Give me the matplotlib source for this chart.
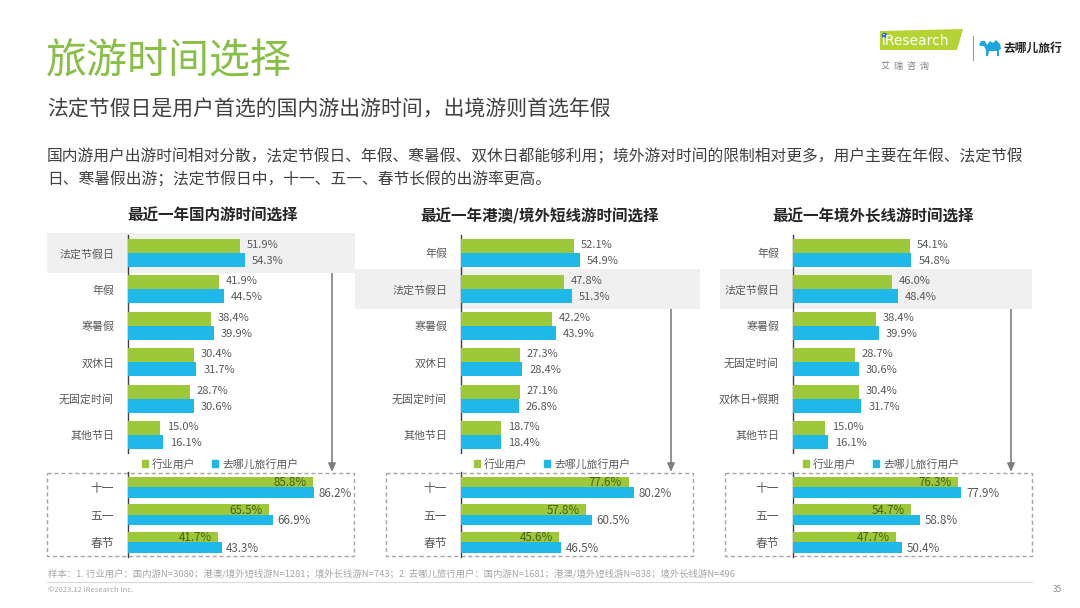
import matplotlib
matplotlib.use("Agg")
import matplotlib.pyplot as plt
from matplotlib.patches import Rectangle, Polygon, Patch

plt.rcParams['font.family'] = ['Noto Sans CJK SC', 'DejaVu Sans']

# ---------------- data ----------------
series_names = ['行业用户', '去哪儿旅行用户']

p1_title = '最近一年国内游时间选择'
p1_cats = ['法定节假日', '年假', '寒暑假', '双休日', '无固定时间', '其他节日']
p1_ind = [51.9, 41.9, 38.4, 30.4, 28.7, 15.0]
p1_qun = [54.3, 44.5, 39.9, 31.7, 30.6, 16.1]

p2_title = '最近一年港澳/境外短线游时间选择'
p2_cats = ['年假', '法定节假日', '寒暑假', '双休日', '无固定时间', '其他节日']
p2_ind = [52.1, 47.8, 42.2, 27.3, 27.1, 18.7]
p2_qun = [54.9, 51.3, 43.9, 28.4, 26.8, 18.4]

p3_title = '最近一年境外长线游时间选择'
p3_cats = ['年假', '法定节假日', '寒暑假', '无固定时间', '双休日+假期', '其他节日']
p3_ind = [54.1, 46.0, 38.4, 28.7, 30.4, 15.0]
p3_qun = [54.8, 48.4, 39.9, 30.6, 31.7, 16.1]

hol_cats = ['十一', '五一', '春节']
p1_hol_ind = [85.8, 65.5, 41.7]
p1_hol_qun = [86.2, 66.9, 43.3]
p2_hol_ind = [77.6, 57.8, 45.6]
p2_hol_qun = [80.2, 60.5, 46.5]
p3_hol_ind = [76.3, 54.7, 47.7]
p3_hol_qun = [77.9, 58.8, 50.4]

title = '旅游时间选择'
subtitle = '法定节假日是用户首选的国内游出游时间，出境游则首选年假'
body1 = '国内游用户出游时间相对分散，法定节假日、年假、寒暑假、双休日都能够利用；境外游对时间的限制相对更多，用户主要在年假、法定节假'
body2 = '日、寒暑假出游；法定节假日中，十一、五一、春节长假的出游率更高。'
footnote = ('样本：1. 行业用户：国内游N=3080；港澳/境外短线游N=1281；境外长线游N=743；'
            '2. 去哪儿旅行用户：国内游N=1681；港澳/境外短线游N=838；境外长线游N=496')

# ---------------- style ----------------
W, H = 1080, 608
GREEN = '#9DC83A'
BLUE = '#1FB9E9'
TITLE_GREEN = '#88BF45'
GRAY_TXT = '#595959'
DARK_TXT = '#404040'
BAND = '#F0F0F0'

fig = plt.figure(figsize=(W / 100, H / 100), dpi=100)
ov = fig.add_axes([0, 0, 1, 1])
ov.set_xlim(0, W)
ov.set_ylim(H, 0)
ov.axis('off')


def add_ax(x0, y0, x1, y1):
    return fig.add_axes([x0 / W, 1 - y1 / H, (x1 - x0) / W, (y1 - y0) / H])


# header texts
ov.text(46, 62, title, fontsize=29.5, color=TITLE_GREEN, va='center', ha='left')
ov.text(47, 110, subtitle, fontsize=15, color=DARK_TXT, va='center', ha='left')
ov.text(47, 157, body1, fontsize=11.35, color=DARK_TXT, va='center', ha='left')
ov.text(47, 180, body2, fontsize=11.35, color=DARK_TXT, va='center', ha='left')

# logo: iResearch
ov.add_patch(Polygon([(880, 31), (963, 29), (957, 50), (880, 50)], closed=True,
                     fc='#B5D334', ec='none'))
ov.text(882, 41, 'iResearch', fontsize=10, color='white', va='center', ha='left',
        family='DejaVu Sans')
ov.plot([884], [35], 'o', ms=3, color='#2A6EBB')
ov.text(881, 66, '艾  瑞  咨  询', fontsize=6.5, color='#7F7F7F', va='center', ha='left')
ov.plot([973, 973], [36, 60], color='#999999', lw=0.8)
camel = [(979, 45), (981, 41), (985, 41), (987, 45), (990, 41), (993, 43), (996, 40),
         (1000, 44), (1001, 49), (999, 50), (999, 56), (997, 56), (997, 51), (989, 51),
         (988, 56), (986, 56), (986, 50), (984, 46), (981, 46)]
ov.add_patch(Polygon(camel, closed=True, fc='#1DA7DF', ec='none'))
ov.text(1004, 48, '去哪儿旅行', fontsize=8.5, fontweight='bold', color='#222222',
        va='center', ha='left')

# footer
ov.text(48, 574, footnote, fontsize=6.75, color='#A6A6A6', va='center', ha='left')
ov.plot([47, 1032], [582, 582], color='#D9D9D9', lw=0.8)
ov.text(48, 590, '©2023.12 iResearch Inc.', fontsize=5.5, color='#A6A6A6', va='center', ha='left')
ov.text(1062, 590, '35', fontsize=6, color='#8C8C8C', va='center', ha='right')

SCALE = 2.16  # px per percent
ROW_TOP = 36.4
ROW_BOT = 27.5

panels = [
    dict(title=p1_title, tx=213, spine=128, cats=p1_cats, ind=p1_ind, qun=p1_qun,
         hind=p1_hol_ind, hqun=p1_hol_qun, hl=0, band=(47, 355), box=(47, 354),
         arrow_x=332, legx=220),
    dict(title=p2_title, tx=540, spine=461, cats=p2_cats, ind=p2_ind, qun=p2_qun,
         hind=p2_hol_ind, hqun=p2_hol_qun, hl=1, band=(355, 700), box=(386, 693),
         arrow_x=671, legx=552),
    dict(title=p3_title, tx=873, spine=793, cats=p3_cats, ind=p3_ind, qun=p3_qun,
         hind=p3_hol_ind, hqun=p3_hol_qun, hl=1, band=(720, 1032), box=(725, 1032),
         arrow_x=1011, legx=881),
]

for p in panels:
    sp = p['spine']
    ov.text(p['tx'], 216, p['title'], fontsize=11.2, fontweight='bold', color='#262626',
            va='center', ha='center')

    # ---- top chart ----
    n = len(p['cats'])
    y_first = 253
    top0 = y_first - ROW_TOP / 2
    top1 = top0 + ROW_TOP * n
    ax = add_ax(sp, top0, sp + 100 * SCALE, top1)
    ax.patch.set_alpha(0)
    ys = list(range(n))
    h = 14 / ROW_TOP
    ax.barh([y - h / 2 for y in ys], p['ind'], height=h, color=GREEN,
            label=series_names[0], zorder=3)
    ax.barh([y + h / 2 for y in ys], p['qun'], height=h, color=BLUE,
            label=series_names[1], zorder=3)
    for y, v in zip(ys, p['ind']):
        ax.text(v + 3.2, y - h / 2 - 0.03, f'{v:.1f}%', fontsize=8, color=GRAY_TXT,
                va='center', ha='left', clip_on=False)
    for y, v in zip(ys, p['qun']):
        ax.text(v + 3.2, y + h / 2 + 0.03, f'{v:.1f}%', fontsize=8, color=GRAY_TXT,
                va='center', ha='left', clip_on=False)
    ax.set_xlim(0, 100)
    ax.set_ylim(n - 0.5, -0.5)
    ax.set_yticks(ys)
    ax.set_yticklabels(p['cats'], fontsize=7.9, color=GRAY_TXT)
    ax.tick_params(axis='y', length=0, pad=10)
    ax.set_xticks([])
    for s in ['top', 'right', 'bottom']:
        ax.spines[s].set_visible(False)
    ax.spines['left'].set_color('#404040')
    ax.spines['left'].set_linewidth(1)
    # highlight band
    bx0, bx1 = p['band']
    ax.axhspan(p['hl'] - 0.55, p['hl'] + 0.55,
               xmin=(bx0 - sp) / (100 * SCALE), xmax=(bx1 - sp) / (100 * SCALE),
               color=BAND, zorder=0, clip_on=False, lw=0)

    # legend
    handles = [Patch(color=GREEN), Patch(color=BLUE)]
    leg = ax.legend(handles, series_names, loc='center', ncol=2,
                    bbox_to_anchor=(p['legx'], 464), bbox_transform=ov.transData,
                    frameon=False, fontsize=7.8, handlelength=0.55, handleheight=0.55,
                    handletextpad=0.35, columnspacing=1.6, borderpad=0)
    for t in leg.get_texts():
        t.set_color(GRAY_TXT)

    # arrow
    hl_y = y_first + ROW_TOP * p['hl']
    axx = p['arrow_x']
    ov.plot([axx], [hl_y], 'o', ms=4, color='#7F7F7F', zorder=5)
    ov.annotate('', xy=(axx, 472), xytext=(axx, hl_y),
                arrowprops=dict(arrowstyle='-|>,head_length=0.5,head_width=0.22',
                                color='#7F7F7F', lw=1.2, shrinkA=0, shrinkB=0))

    # dashed box
    x0, x1 = p['box']
    ov.add_patch(Rectangle((x0, 473), x1 - x0, 83, fill=False, ec='#A6A6A6', lw=1,
                           ls=(0, (3, 2))))

    # ---- bottom chart ----
    m = len(hol_cats)
    b_first = 487
    bt0 = b_first - ROW_BOT / 2
    bt1 = bt0 + ROW_BOT * m
    bx = add_ax(sp, bt0, sp + 100 * SCALE, bt1)
    bx.patch.set_alpha(0)
    ys2 = list(range(m))
    hb = 10.5 / ROW_BOT
    bx.barh([y - hb / 2 for y in ys2], p['hind'], height=hb, color=GREEN, zorder=3)
    bx.barh([y + hb / 2 for y in ys2], p['hqun'], height=hb, color=BLUE, zorder=3)
    for y, v in zip(ys2, p['hind']):
        bx.text(v - 3, y - hb / 2 + 0.04, f'{v:.1f}%', fontsize=8.3, color='#4A5E1E',
                va='center', ha='right', clip_on=False, zorder=4)
    for y, v in zip(ys2, p['hqun']):
        bx.text(v + 2.2, y + hb / 2 + 0.03, f'{v:.1f}%', fontsize=8.3, color=GRAY_TXT,
                va='center', ha='left', clip_on=False)
    bx.set_xlim(0, 100)
    bx.set_ylim(m - 0.5, -0.5)
    bx.set_yticks(ys2)
    bx.set_yticklabels(hol_cats, fontsize=8.5, color=GRAY_TXT)
    bx.tick_params(axis='y', length=0, pad=10)
    bx.set_xticks([])
    for s in ['top', 'right', 'bottom']:
        bx.spines[s].set_visible(False)
    bx.spines['left'].set_color('#404040')
    bx.spines['left'].set_linewidth(1)
    bx.spines['left'].set_bounds(-0.55, m - 0.45)

fig.savefig('out.png', dpi=100)
